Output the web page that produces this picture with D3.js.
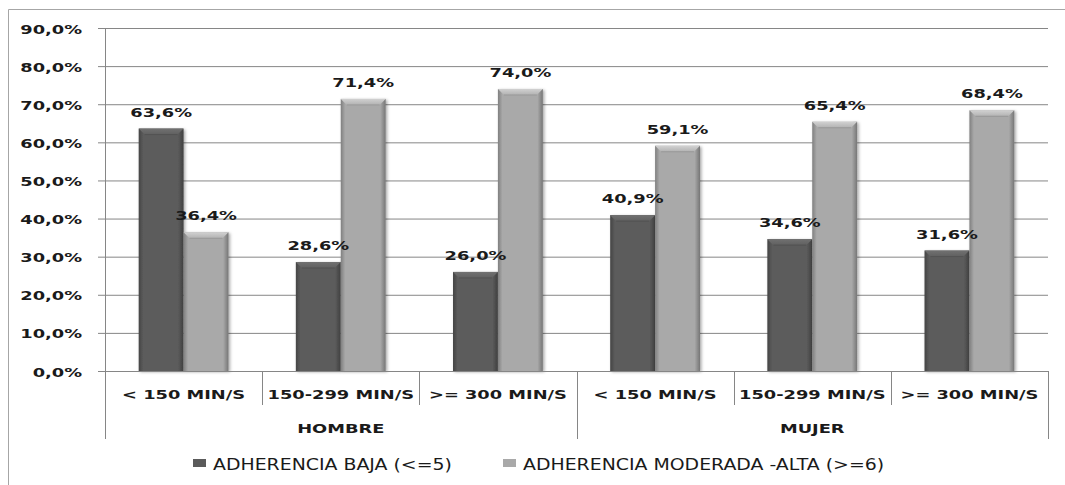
<!DOCTYPE html>
<html>
<head>
<meta charset="utf-8">
<script src="https://cdn.jsdelivr.net/npm/d3@7"></script>
<style>
  html, body { margin: 0; padding: 0; background: #fff; }
  svg { display: block; }
</style>
</head>
<body>
<script>
// Physical activity groups within each sex
const groups = ["HOMBRE", "MUJER"];
const activity = ["< 150 MIN/S", "150-299 MIN/S", ">= 300 MIN/S"];
const seriesNames = ["ADHERENCIA BAJA (<=5)", "ADHERENCIA MODERADA -ALTA (>=6)"];
// Percentages, one entry per group/activity pair (HOMBRE first, then MUJER)
const adherenciaBaja = [63.6, 28.6, 26.0, 40.9, 34.6, 31.6];
const adherenciaModAlta = [36.4, 71.4, 74.0, 59.1, 65.4, 68.4];
const yTicks = [0, 10, 20, 30, 40, 50, 60, 70, 80, 90];

const W = 1065, H = 485;
const plot = { left: 105, right: 1048, top: 28, bottom: 371 };
const colors = ["#5b5b5b", "#a9a9a9"];
const fmt = v => d3.format(".1f")(v).replace(".", ",") + "%";
const SX = 1.37; // horizontal text stretch

const svg = d3.select("body").append("svg").attr("width", W).attr("height", H);

// gradients for the bevelled bars
const defs = svg.append("defs");
colors.forEach((c, i) => {
  const g = defs.append("linearGradient").attr("id", "bar" + i)
    .attr("x1", "0").attr("x2", "1").attr("y1", "0").attr("y2", "0");
  const base = d3.color(c);
  g.append("stop").attr("offset", "0").attr("stop-color", base.darker(0.8));
  g.append("stop").attr("offset", "0.1").attr("stop-color", base);
  g.append("stop").attr("offset", "0.88").attr("stop-color", base);
  g.append("stop").attr("offset", "1").attr("stop-color", base.darker(1.0));
  const t = defs.append("linearGradient").attr("id", "top" + i)
    .attr("x1", "0").attr("x2", "0").attr("y1", "0").attr("y2", "1");
  t.append("stop").attr("offset", "0").attr("stop-color", base.brighter(0.6));
  t.append("stop").attr("offset", "1").attr("stop-color", base.brighter(0.15));
});
const shadow = defs.append("filter").attr("id", "shadow")
  .attr("x", "-20%").attr("y", "-10%").attr("width", "140%").attr("height", "120%");
shadow.append("feDropShadow").attr("dx", 1.5).attr("dy", 1).attr("stdDeviation", 1.5)
  .attr("flood-color", "#000").attr("flood-opacity", 0.35);

// outer chart frame
svg.append("path")
  .attr("d", `M8.5,${H} L8.5,9.5 L${W},9.5`)
  .attr("fill", "none").attr("stroke", "#a6a6a6").attr("stroke-width", 1);

const cats = [];
groups.forEach(g => activity.forEach(a => cats.push(g + "|" + a)));

const x = d3.scaleBand().domain(cats).range([plot.left, plot.right]).paddingInner(0).paddingOuter(0);
const xs = d3.scaleBand().domain([0, 1]).range([0, x.bandwidth()]).paddingInner(0).paddingOuter(0.75);
const y = d3.scaleLinear().domain([0, 90]).range([plot.bottom, plot.top]);

function stretched(sel, sx) {
  return sel.attr("transform", function () {
    const px = +this.getAttribute("data-x"), py = +this.getAttribute("data-y");
    return `translate(${px},${py}) scale(${sx},1)`;
  });
}

// gridlines + y axis
const yAxis = d3.axisLeft(y).tickValues(yTicks).tickSize(7).tickFormat(d => fmt(d));
const yg = svg.append("g").attr("transform", `translate(${plot.left},0)`).call(yAxis);
yg.select(".domain").remove();
yg.selectAll(".tick line").attr("stroke", "#868686");
yg.selectAll(".tick").append("line")
  .attr("x1", 0).attr("x2", plot.right - plot.left)
  .attr("stroke", "#868686").attr("stroke-width", 1);
yg.selectAll(".tick text")
  .attr("font-family", "DejaVu Sans").attr("font-weight", "bold")
  .attr("font-size", 13).attr("fill", "#1a1a1a")
  .attr("x", null).attr("dy", null).attr("text-anchor", "end")
  .attr("data-x", -23).attr("data-y", 5)
  .call(s => stretched(s, SX));

// vertical axis line
svg.append("line")
  .attr("x1", plot.left + 0.5).attr("x2", plot.left + 0.5)
  .attr("y1", plot.top).attr("y2", 439)
  .attr("stroke", "#868686");

// bars
const data = [];
cats.forEach((c, i) => {
  data.push({ cat: c, s: 0, v: adherenciaBaja[i] });
  data.push({ cat: c, s: 1, v: adherenciaModAlta[i] });
});

const bars = svg.append("g").selectAll("g").data(data).join("g")
  .attr("transform", d => `translate(${x(d.cat) + xs(d.s)},0)`);
bars.append("rect")
  .attr("x", 0).attr("width", xs.bandwidth())
  .attr("y", d => y(d.v)).attr("height", d => y(0) - y(d.v))
  .attr("fill", d => `url(#bar${d.s})`)
  .attr("filter", "url(#shadow)");
// top bevel
bars.append("path")
  .attr("d", d => {
    const w = xs.bandwidth(), t = y(d.v), b = 6;
    return `M0,${t} L${w},${t} L${w - b},${t + b} L${b},${t + b} Z`;
  })
  .attr("fill", d => `url(#top${d.s})`);
bars.append("path")
  .attr("d", d => {
    const w = xs.bandwidth(), t = y(d.v), b = 6;
    return `M${b},${t + b} L${w - b},${t + b}`;
  })
  .attr("stroke", d => d3.color(colors[d.s]).darker(0.4)).attr("stroke-width", 0.8);

// value labels
svg.append("g").selectAll("text").data(data).join("text")
  .attr("data-x", d => x(d.cat) + xs(d.s) + xs.bandwidth() / 2)
  .attr("data-y", d => y(d.v) - 12)
  .attr("text-anchor", "middle")
  .attr("font-family", "DejaVu Sans").attr("font-weight", "bold")
  .attr("font-size", 13).attr("fill", "#1a1a1a")
  .text(d => fmt(d.v))
  .call(s => stretched(s, SX));

// x axis: baseline, category separators, group separators
svg.append("line")
  .attr("x1", plot.left).attr("x2", plot.right)
  .attr("y1", plot.bottom + 0.5).attr("y2", plot.bottom + 0.5)
  .attr("stroke", "#868686");
const sepG = svg.append("g");
cats.forEach((c, i) => {
  if (i === 0) return;
  const xx = Math.round(x(c)) + 0.5;
  const isGroup = i % activity.length === 0;
  sepG.append("line")
    .attr("x1", xx).attr("x2", xx)
    .attr("y1", plot.bottom).attr("y2", isGroup ? 439 : 405)
    .attr("stroke", "#868686");
});
sepG.append("line")
  .attr("x1", plot.right + 0.5).attr("x2", plot.right + 0.5)
  .attr("y1", plot.bottom).attr("y2", 439)
  .attr("stroke", "#868686");

// category labels
svg.append("g").selectAll("text").data(cats).join("text")
  .attr("data-x", d => x(d) + x.bandwidth() / 2)
  .attr("data-y", 399)
  .attr("text-anchor", "middle")
  .attr("font-family", "DejaVu Sans").attr("font-weight", "bold")
  .attr("font-size", 13).attr("fill", "#1a1a1a")
  .text(d => d.split("|")[1])
  .call(s => stretched(s, SX));

// group labels
svg.append("g").selectAll("text").data(groups).join("text")
  .attr("data-x", g => {
    const first = x(g + "|" + activity[0]);
    const last = x(g + "|" + activity[activity.length - 1]) + x.bandwidth();
    return (first + last) / 2;
  })
  .attr("data-y", 433)
  .attr("text-anchor", "middle")
  .attr("font-family", "DejaVu Sans").attr("font-weight", "bold")
  .attr("font-size", 13).attr("fill", "#1a1a1a")
  .text(d => d)
  .call(s => stretched(s, SX));

// legend
const legendX = [193, 503];
const lg = svg.append("g").selectAll("g").data(seriesNames).join("g");
lg.append("rect")
  .attr("x", (d, i) => legendX[i]).attr("y", 459)
  .attr("width", 13).attr("height", 8)
  .attr("fill", (d, i) => colors[i]);
lg.append("text")
  .attr("data-x", (d, i) => legendX[i] + 20).attr("data-y", 470)
  .attr("font-family", "DejaVu Sans").attr("font-size", 15).attr("fill", "#1a1a1a")
  .text(d => d)
  .call(s => stretched(s, 1.26));
</script>
</body>
</html>
